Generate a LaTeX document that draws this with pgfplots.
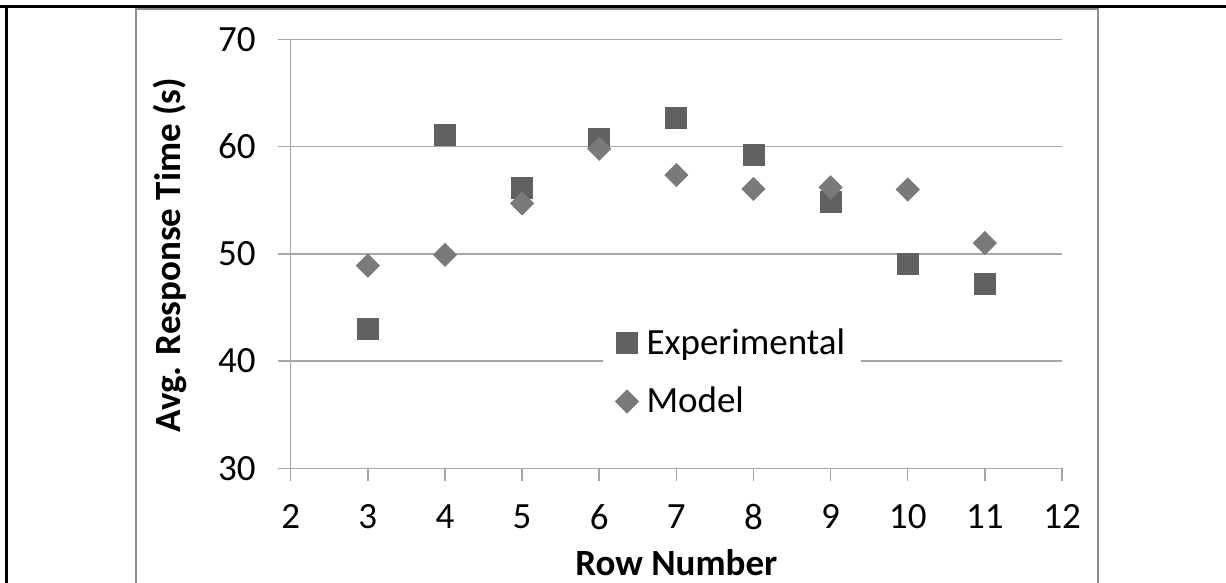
\documentclass[border=0pt]{standalone}
\usepackage{pgfplots}
\pgfplotsset{compat=1.18}
\usepackage{fontspec}
\setmainfont{Carlito}
\definecolor{expc}{HTML}{616161}
\definecolor{modc}{HTML}{7A7A7A}
\definecolor{gridc}{HTML}{A6A6A6}
\definecolor{framec}{HTML}{8C8C8C}
\begin{document}
\begin{tikzpicture}[x=0.5pt,y=-0.5pt]
\path[use as bounding box] (0,0) rectangle (1226,583);
\draw[line width=1pt,framec] (136.2,583) -- (136.2,9) -- (1097.8,9) -- (1097.8,583);
\draw[line width=1.5pt,black] (0,6.5) -- (1226,6.5);
\draw[line width=1.5pt,black] (6,5.75) -- (6,583);
\begin{axis}[
  at={(145.35pt,-234.15pt)}, anchor=south west,
  scale only axis, width=385.65pt, height=214.5pt,
  xmin=2, xmax=12, ymin=30, ymax=70,
  xtick={2,3,...,12}, ytick={30,40,...,70},
  axis x line*=bottom, axis y line*=left,
  axis line style={gridc, line width=0.75pt},
  tick style={gridc, line width=0.75pt},
  tick align=outside, major tick length=6.5pt,
  ymajorgrids, grid style={gridc, line width=0.75pt},
  /pgf/number format/assume math mode=true,
  ticklabel style={font=\fontsize{18.5}{21}\selectfont, text=black},
  xticklabel style={yshift=-8pt},
  yticklabel style={xshift=-7.5pt},
  xlabel={Row Number}, ylabel={Avg. Response Time (s)},
  label style={font=\fontsize{18.5}{21}\selectfont\bfseries},
  xlabel style={at={(axis description cs:0.5,-0.2191)}, anchor=center},
  ylabel style={at={(axis description cs:-0.1565,0.497)}, anchor=center},
  legend style={at={(0.405,0.355)}, anchor=north west, draw=none, fill=white,
    font=\fontsize{18.5}{21}\selectfont, row sep=11pt, inner xsep=6pt, inner ysep=4pt,
    /tikz/every odd column/.append style={column sep=2pt}},
  legend cell align=left,
  clip=false,
]
\addplot[only marks, mark=square*, mark size=5.25pt, color=expc, mark options={fill=expc, draw=expc}]
  coordinates {(3,43.0)(4,61.1)(5,56.1)(6,60.7)(7,62.7)(8,59.2)(9,54.8)(10,49.05)(11,47.2)};
\addlegendentry{Experimental}
\addplot[only marks, mark=square*, mark size=4.07pt, color=modc, mark options={fill=modc, draw=modc, rotate=45}]
  coordinates {(3,48.9)(4,49.9)(5,54.7)(6,59.8)(7,57.35)(8,56.05)(9,56.2)(10,56.0)(11,51.0)};
\addlegendentry{Model}
\end{axis}
\end{tikzpicture}
\end{document}
